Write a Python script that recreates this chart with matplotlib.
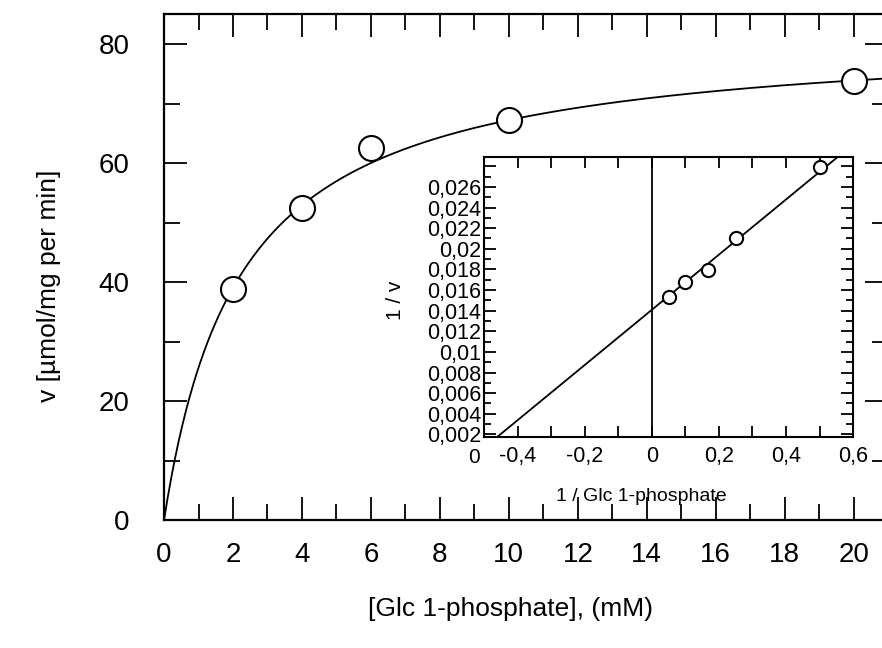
import numpy as np
import matplotlib
matplotlib.use("Agg")
import matplotlib.pyplot as plt
from matplotlib.ticker import MultipleLocator, FuncFormatter
from matplotlib.transforms import blended_transform_factory

plt.rcParams['font.family'] = ['Liberation Sans', 'DejaVu Sans']

# main panel: initial rate vs substrate concentration
s_mM = [2, 4, 6, 10, 20]
v_rate = [38.8, 52.5, 62.6, 67.2, 73.8]
vmax_fit = 82.0     # fitted Michaelis-Menten curve
km_fit = 2.2

# inset: Lineweaver-Burk plot
inv_s = [0.05, 0.10, 0.167, 0.25, 0.50]
inv_v = [0.0153, 0.0168, 0.0179, 0.0210, 0.0279]
lb_intercept = 0.01408
lb_slope = 0.02675


def comma_fmt(v, pos=None):
    v = round(v, 4)
    if abs(v) < 1e-9:
        return '0'
    return f'{v:g}'.replace('.', ',')


fig = plt.figure(figsize=(8.82, 6.48), dpi=100)
ax = fig.add_axes([0.186, 0.1975, 0.821, 0.7805])

s_grid = np.linspace(0, 21, 400)
ax.plot(s_grid, vmax_fit * s_grid / (km_fit + s_grid), color='black', lw=1.3)
ax.plot(s_mM, v_rate, 'o', ms=18, mfc='white', mec='black', mew=1.5)

ax.set_xlim(0, 21)
ax.set_ylim(0, 85)
ax.xaxis.set_major_locator(MultipleLocator(2))
ax.xaxis.set_minor_locator(MultipleLocator(1))
ax.yaxis.set_major_locator(MultipleLocator(20))
ax.yaxis.set_minor_locator(MultipleLocator(10))
ax.tick_params(which='both', direction='in', top=True, right=True, width=1.3)
ax.tick_params(which='major', length=16.5)
ax.tick_params(which='minor', length=11.5)
ax.tick_params(axis='x', which='major', labelsize=20, pad=15.5)
ax.tick_params(axis='y', which='major', labelsize=20, pad=25)
for sp in ax.spines.values():
    sp.set_linewidth(1.6)

ax.set_xlabel('[Glc 1-phosphate], (mM)', fontsize=19)
ax.xaxis.set_label_coords(0.478, -0.152)
ax.set_ylabel('v [µmol/mg per min]', fontsize=19)
ax.yaxis.set_label_coords(-0.143, 0.464)

# inset
axi = fig.add_axes([0.5488, 0.3256, 0.4184, 0.4321])
axi.set_facecolor('white')
xl = np.array([-0.5, 0.6])
axi.plot(xl, lb_intercept + lb_slope * xl, color='black', lw=1.3)
axi.axvline(0, color='black', lw=1.3)
axi.plot(inv_s, inv_v, 'o', ms=9.5, mfc='white', mec='black', mew=1.5)

axi.set_xlim(-0.5, 0.6)
axi.set_ylim(0.00175, 0.0289)
axi.xaxis.set_major_locator(MultipleLocator(0.2))
axi.xaxis.set_minor_locator(MultipleLocator(0.1))
axi.yaxis.set_major_locator(MultipleLocator(0.002))
axi.yaxis.set_minor_locator(MultipleLocator(0.001))
axi.xaxis.set_major_formatter(FuncFormatter(comma_fmt))
axi.yaxis.set_major_formatter(
    FuncFormatter(lambda v, pos: comma_fmt(v) if v < 0.027 else ''))
axi.tick_params(which='both', direction='in', top=True, right=True, width=1.3)
axi.tick_params(axis='x', which='both', length=8)
axi.tick_params(axis='y', which='major', length=8.5)
axi.tick_params(axis='y', which='minor', length=5)
axi.tick_params(axis='x', which='major', labelsize=15.5, pad=6.5)
axi.tick_params(axis='y', which='major', labelsize=15.5, pad=2)
for sp in axi.spines.values():
    sp.set_linewidth(1.5)

axi.text(-0.026, -0.0002, '0', fontsize=15, ha='center', va='center',
         transform=blended_transform_factory(axi.transAxes, axi.transData),
         clip_on=False)

axi.set_xlabel('1 / Glc 1-phosphate', fontsize=14)
axi.xaxis.set_label_coords(0.425, -0.182)
axi.set_ylabel('1 / v', fontsize=15)
axi.yaxis.set_label_coords(-0.214, 0.489)

fig.savefig('out.png', dpi=100)
